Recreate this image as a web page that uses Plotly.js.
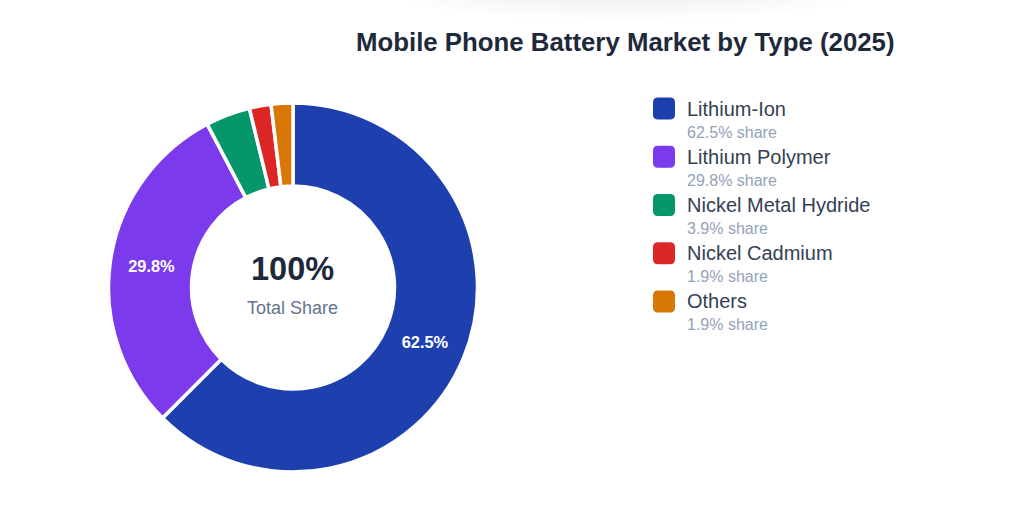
<!DOCTYPE html>
<html><head><meta charset="utf-8">
<script src="https://cdn.plot.ly/plotly-3.0.1.min.js"></script>
<style>html,body{margin:0;padding:0;background:#fff}#c{width:1024px;height:524px}</style>
</head><body><div id="c"></div>
<script>
const categories = ["Lithium-Ion","Lithium Polymer","Nickel Metal Hydride","Nickel Cadmium","Others"];
const shares = [62.5,29.8,3.9,1.9,1.9];
const colors = ["#1e40af","#7c3aed","#059669","#dc2626","#d97706"];
const sliceLabels = ["62.5%","29.8%","","",""];
const W=1024,H=524;
const SANS='Liberation Sans, Arial, sans-serif';
const fx=x=>x/W, fy=y=>1-y/H;
const annotations=[], shapes=[];
function txt(x,y,text,size,color,opts){annotations.push(Object.assign({xref:'paper',yref:'paper',x:fx(x),y:fy(y),text:text,showarrow:false,xanchor:'left',yanchor:'middle',font:{family:SANS,size:size,color:color}},opts||{}));}
function rr(x,y,s,r){const a=[[x+r,y],[x+s-r,y],[x+s,y+r],[x+s,y+s-r],[x+s-r,y+s],[x+r,y+s],[x,y+s-r],[x,y+r]];
 return `M${fx(a[0][0])},${fy(a[0][1])} L${fx(a[1][0])},${fy(a[1][1])} Q${fx(x+s)},${fy(y)} ${fx(a[2][0])},${fy(a[2][1])} L${fx(a[3][0])},${fy(a[3][1])} Q${fx(x+s)},${fy(y+s)} ${fx(a[4][0])},${fy(a[4][1])} L${fx(a[5][0])},${fy(a[5][1])} Q${fx(x)},${fy(y+s)} ${fx(a[6][0])},${fy(a[6][1])} L${fx(a[7][0])},${fy(a[7][1])} Q${fx(x)},${fy(y)} ${fx(a[0][0])},${fy(a[0][1])} Z`;}
// faint shadow at the top edge
for(let k=0;k<6;k++){
  shapes.push({type:'circle',xref:'paper',yref:'paper',x0:fx(400+k*18),x1:fx(850-k*18),y0:fy(20-k*3.5),y1:fy(-30),fillcolor:'rgba(0,0,0,0.006)',line:{width:0},layer:'below'});
}
categories.forEach((c,i)=>{
  const y=108.6+i*48.2;
  shapes.push({type:'path',xref:'paper',yref:'paper',path:rr(653,y-11,22,5),fillcolor:colors[i],line:{width:0}});
  txt(684.6,y,c,20,'#334155');
  txt(684.6,y+23.5,shares[i]+'% share',16,'#94a3b8');
});
txt(292.5,269,'<b>100%</b>',32.5,'#1e293b',{xanchor:'center'});
txt(292.6,308,'Total Share',18,'#64748b',{xanchor:'center'});
txt(625,42,'<b>Mobile Phone Battery Market by Type (2025)</b>',25.8,'#1e293b',{xanchor:'center'});
Plotly.newPlot('c',[{type:'pie',labels:categories,values:shares,text:sliceLabels,textinfo:'text',textposition:'inside',insidetextorientation:'horizontal',
  hole:0.55,sort:false,direction:'clockwise',rotation:0,marker:{colors:colors,line:{color:'#fff',width:3.5}},
  textfont:{family:SANS,size:16.4,color:'#fff',weight:700},
  domain:{x:[fx(293-184.5),fx(293+184.5)],y:[fy(287.5+184.5),fy(287.5-184.5)]},showlegend:false}],
  {width:W,height:H,margin:{l:0,r:0,t:0,b:0},paper_bgcolor:'#fff',showlegend:false,annotations,shapes},
  {displayModeBar:false,staticPlot:true});
</script></body></html>
